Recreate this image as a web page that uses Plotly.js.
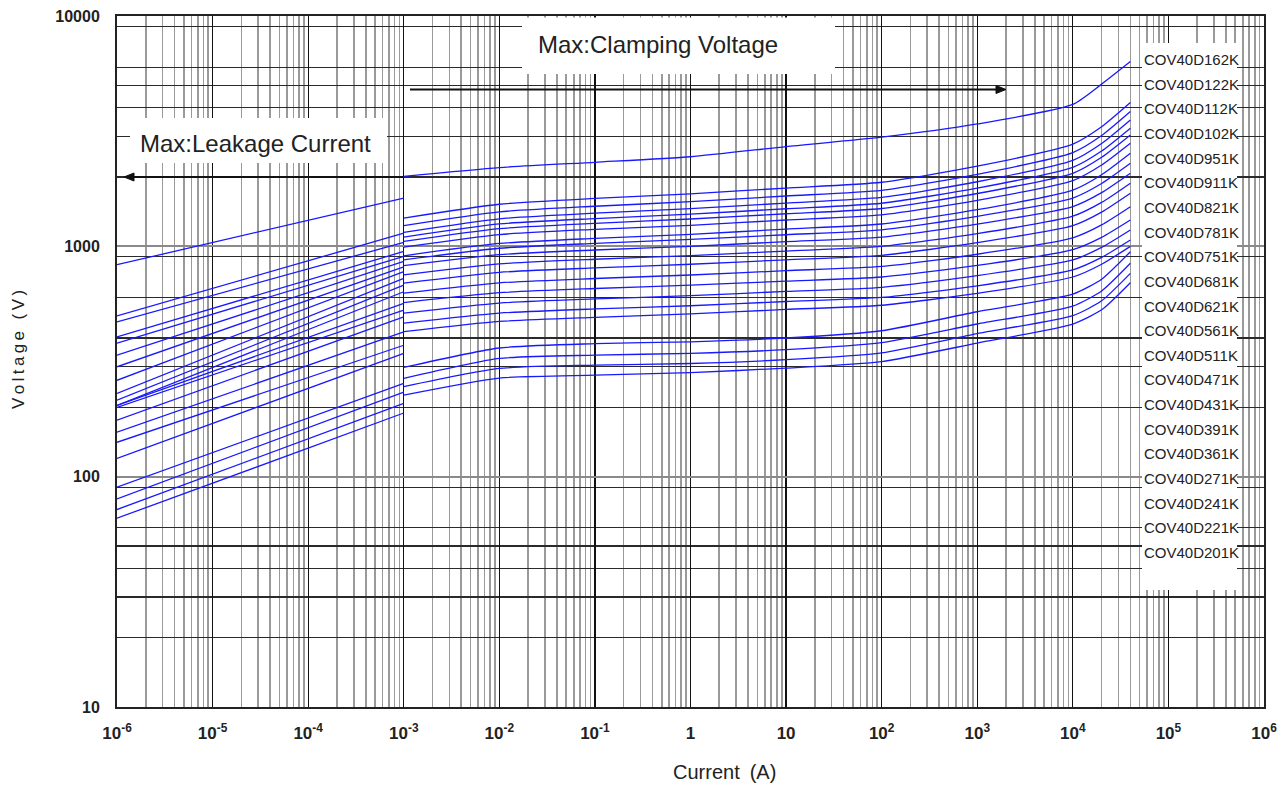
<!DOCTYPE html>
<html><head><meta charset="utf-8">
<script src="https://cdn.plot.ly/plotly-3.0.1.min.js"></script>
<style>html,body{margin:0;padding:0;background:#fff}#chart{width:1283px;height:788px}</style>
</head><body><div id="chart"></div>
<script>
// ---- data ----
const devices = ['COV40D162K','COV40D122K','COV40D112K','COV40D102K','COV40D951K','COV40D911K','COV40D821K','COV40D781K','COV40D751K','COV40D681K','COV40D621K','COV40D561K','COV40D511K','COV40D471K','COV40D431K','COV40D391K','COV40D361K','COV40D271K','COV40D241K','COV40D221K','COV40D201K'];
const leakCurrent = [1e-6, 1e-3];
const clampCurrent = [1e-3, 1e-2, 1e-1, 1, 10, 100, 1e3, 1e4, 2e4, 4e4];

const leak162K = [832, 1620];
const leak122K = [499, 1140];
const leak112K = [470, 1040];
const leak102K = [404, 950];
const leak951K = [380, 905];
const leak911K = [337, 860];
const leak821K = [300, 815];
const leak781K = [262, 776];
const leak751K = [230, 726];
const leak681K = [215, 679];
const leak621K = [204, 635];
const leak561K = [204, 565];
const leak511K = [200, 529];
const leak471K = [176, 494];
const leak431K = [156, 425];
const leak391K = [141, 372];
const leak361K = [120, 343];
const leak271K = [90, 254];
const leak241K = [80, 233];
const leak221K = [72, 208];
const leak201K = [66, 189];

const clamp162K = [2014, 2198, 2317, 2449, 2710, 2977, 3398, 4130, 5060, 6340];
const clamp122K = [1327, 1523, 1615, 1691, 1791, 1898, 2229, 2777, 3302, 4207];
const clamp112K = [1230, 1411, 1493, 1562, 1654, 1750, 2054, 2552, 3026, 3846];
const clamp102K = [1151, 1317, 1393, 1457, 1541, 1630, 1907, 2361, 2795, 3537];
const clamp951K = [1097, 1251, 1320, 1379, 1456, 1538, 1790, 2202, 2592, 3258];
const clamp911K = [1050, 1194, 1258, 1314, 1385, 1460, 1696, 2076, 2436, 3046];
const clamp821K = [993, 1125, 1185, 1234, 1301, 1370, 1584, 1929, 2254, 2802];
const clamp781K = [910, 1029, 1083, 1128, 1188, 1250, 1442, 1753, 2044, 2534];
const clamp751K = [874, 981, 1030, 1071, 1123, 1179, 1349, 1621, 1874, 2294];
const clamp681K = [824, 920, 964, 1000, 1048, 1097, 1249, 1489, 1711, 2077];
const clamp621K = [752, 839, 879, 911, 954, 999, 1136, 1351, 1551, 1880];
const clamp561K = [692, 771, 806, 836, 874, 914, 1037, 1230, 1408, 1700];
const clamp511K = [626, 694, 725, 751, 784, 818, 924, 1089, 1239, 1486];
const clamp471K = [570, 629, 656, 678, 706, 736, 826, 967, 1094, 1301];
const clamp431K = [513, 567, 591, 611, 637, 664, 746, 873, 989, 1177];
const clamp391K = [464, 513, 535, 552, 576, 600, 674, 790, 895, 1065];
const clamp361K = [426, 472, 492, 509, 532, 555, 625, 736, 836, 1000];
const clamp271K = [298, 362, 378, 385, 400, 430, 520, 620, 720, 948];
const clamp241K = [267, 326, 337, 343, 356, 382, 460, 550, 640, 844];
const clamp221K = [246, 295, 305, 310, 322, 345, 418, 500, 580, 763];
const clamp201K = [226, 268, 276, 283, 296, 316, 380, 460, 530, 695];

const xTickVals = [1e-6,1e-5,1e-4,1e-3,1e-2,1e-1,1,10,100,1e3,1e4,1e5,1e6];
const xTickText = ['10<sup>-6</sup>','10<sup>-5</sup>','10<sup>-4</sup>','10<sup>-3</sup>','10<sup>-2</sup>','10<sup>-1</sup>','1','10','10<sup>2</sup>','10<sup>3</sup>','10<sup>4</sup>','10<sup>5</sup>','10<sup>6</sup>'];
const yTickVals = [10, 100, 1000, 10000];
const yTickText = ['10', '100', '1000', '10000'];
const yGridMinor = [20,30,40,50,60,90,200,300,400,600,900,2000,3000,4000,5000,6000,9000];

// ---- build ----
const leakSets = [leak162K,leak122K,leak112K,leak102K,leak951K,leak911K,leak821K,leak781K,leak751K,leak681K,leak621K,leak561K,leak511K,leak471K,leak431K,leak391K,leak361K,leak271K,leak241K,leak221K,leak201K];
const clampSets = [clamp162K,clamp122K,clamp112K,clamp102K,clamp951K,clamp911K,clamp821K,clamp781K,clamp751K,clamp681K,clamp621K,clamp561K,clamp511K,clamp471K,clamp431K,clamp391K,clamp361K,clamp271K,clamp241K,clamp221K,clamp201K];
const BLUE = 'rgb(25,25,255)';
const traces = [];
devices.forEach((d, i) => {
  traces.push({x: leakCurrent, y: leakSets[i], type: 'scatter', mode: 'lines', name: d + ' leakage',
    line: {color: BLUE, width: 1.3}, showlegend: false, hoverinfo: 'skip'});
  traces.push({x: clampCurrent, y: clampSets[i], type: 'scatter', mode: 'lines', name: d + ' clamping',
    line: {color: BLUE, width: 1.3, shape: 'spline', smoothing: 0.6}, showlegend: false, hoverinfo: 'skip'});
});

const xMinor = [];
for (let e = -6; e < 6; e++) for (let k = 2; k <= 9; k++) xMinor.push(k * Math.pow(10, e));

// pixel helpers for plot area (l=117, r=1264, t=16, b=707)
const L = 117, R = 1264, T = 16, B = 707;
const xp = px => (px - L) / (R - L);
const yp = py => (B - py) / (B - T);
const tri = (tipX, y, dir) => {
  const bx = tipX - dir * 10;
  return `M ${xp(tipX)},${yp(y)} L ${xp(bx)},${yp(y - 4)} L ${xp(bx)},${yp(y + 4)} Z`;
};

const FONT = 'Liberation Sans';
const shapes = [
  {type: 'rect', xref: 'paper', yref: 'paper', x0: xp(522), x1: xp(835), y0: yp(74), y1: yp(17.5), fillcolor: '#fff', line: {width: 0}, layer: 'above'},
  {type: 'rect', xref: 'paper', yref: 'paper', x0: xp(130), x1: xp(387), y0: yp(163), y1: yp(118), fillcolor: '#fff', line: {width: 0}, layer: 'above'},
  {type: 'rect', xref: 'paper', yref: 'paper', x0: xp(1142), x1: xp(1237), y0: yp(590), y1: yp(43), fillcolor: '#fff', line: {width: 0}, layer: 'above'},
  // arrows
  {type: 'line', xref: 'paper', yref: 'paper', x0: xp(132), x1: xp(403.5), y0: yp(177), y1: yp(177), line: {color: '#111', width: 2}, layer: 'above'},
  {type: 'path', xref: 'paper', yref: 'paper', path: tri(124, 177, -1), fillcolor: '#111', line: {color: '#111', width: 1}, layer: 'above'},
  {type: 'line', xref: 'paper', yref: 'paper', x0: xp(410), x1: xp(998), y0: yp(89.5), y1: yp(89.5), line: {color: '#111', width: 2}, layer: 'above'},
  {type: 'path', xref: 'paper', yref: 'paper', path: tri(1006, 89.5, 1), fillcolor: '#111', line: {color: '#111', width: 1}, layer: 'above'}
];

const annotations = [
  {xref: 'paper', yref: 'paper', x: xp(658), y: yp(45), text: 'Max:Clamping Voltage', showarrow: false,
   font: {family: FONT, size: 24, color: '#222'}, xanchor: 'center', yanchor: 'middle'},
  {xref: 'paper', yref: 'paper', x: xp(255), y: yp(143), text: 'Max:Leakage Current', showarrow: false,
   font: {family: FONT, size: 24, color: '#222'}, xanchor: 'center', yanchor: 'middle'},
  {xref: 'paper', yref: 'paper', x: xp(724), y: yp(772), text: 'Current\u2002(A)', showarrow: false,
   font: {family: FONT, size: 20, color: '#222'}, xanchor: 'center', yanchor: 'middle'},
  {xref: 'paper', yref: 'paper', x: xp(18), y: yp(350), text: 'V\u2009o\u2009l\u2009t\u2009a\u2009g\u2009e\u2009 \u2009(\u2009V\u2009)', showarrow: false,
   textangle: -90, font: {family: FONT, size: 17, color: '#222'}, xanchor: 'center', yanchor: 'middle'}
];
devices.forEach((d, i) => {
  annotations.push({xref: 'paper', yref: 'paper', x: xp(1142), y: yp(59.5 + i * 24.65), text: d, showarrow: false,
    xanchor: 'left', yanchor: 'middle', font: {family: FONT, size: 15, color: '#222'}});
});

const layout = {
  width: 1283, height: 788,
  margin: {l: L, r: 1283 - R, t: T, b: 788 - B, pad: 0},
  paper_bgcolor: '#fff', plot_bgcolor: '#fff',
  showlegend: false,
  xaxis: {type: 'log', range: [-6, 6], tickmode: 'array', tickvals: xTickVals, ticktext: xTickText,
    showgrid: true, gridcolor: '#111', gridwidth: 1.3, zeroline: false,
    showline: true, linecolor: '#222', linewidth: 2, mirror: true, ticks: '', ticklabelstandoff: 10,
    tickfont: {family: FONT, size: 17, color: '#222', weight: 'bold'},
    minor: {tickmode: 'array', tickvals: xMinor, showgrid: true, gridcolor: '#9a9a9a', gridwidth: 1.6, ticks: ''}},
  yaxis: {type: 'log', range: [1, 4], tickmode: 'array', tickvals: yTickVals, ticktext: yTickText,
    showgrid: true, gridcolor: '#8a8a8a', gridwidth: 2, zeroline: false,
    showline: true, linecolor: '#222', linewidth: 2, mirror: true, ticks: '', ticklabelstandoff: 12,
    tickfont: {family: FONT, size: 16, color: '#222', weight: 'bold'},
    minor: {tickmode: 'array', tickvals: yGridMinor, showgrid: true, gridcolor: '#2a2a2a', gridwidth: 1.2, ticks: ''}},
  shapes: shapes,
  annotations: annotations
};

Plotly.newPlot('chart', traces, layout, {staticPlot: true, displayModeBar: false});
</script>
</body></html>
